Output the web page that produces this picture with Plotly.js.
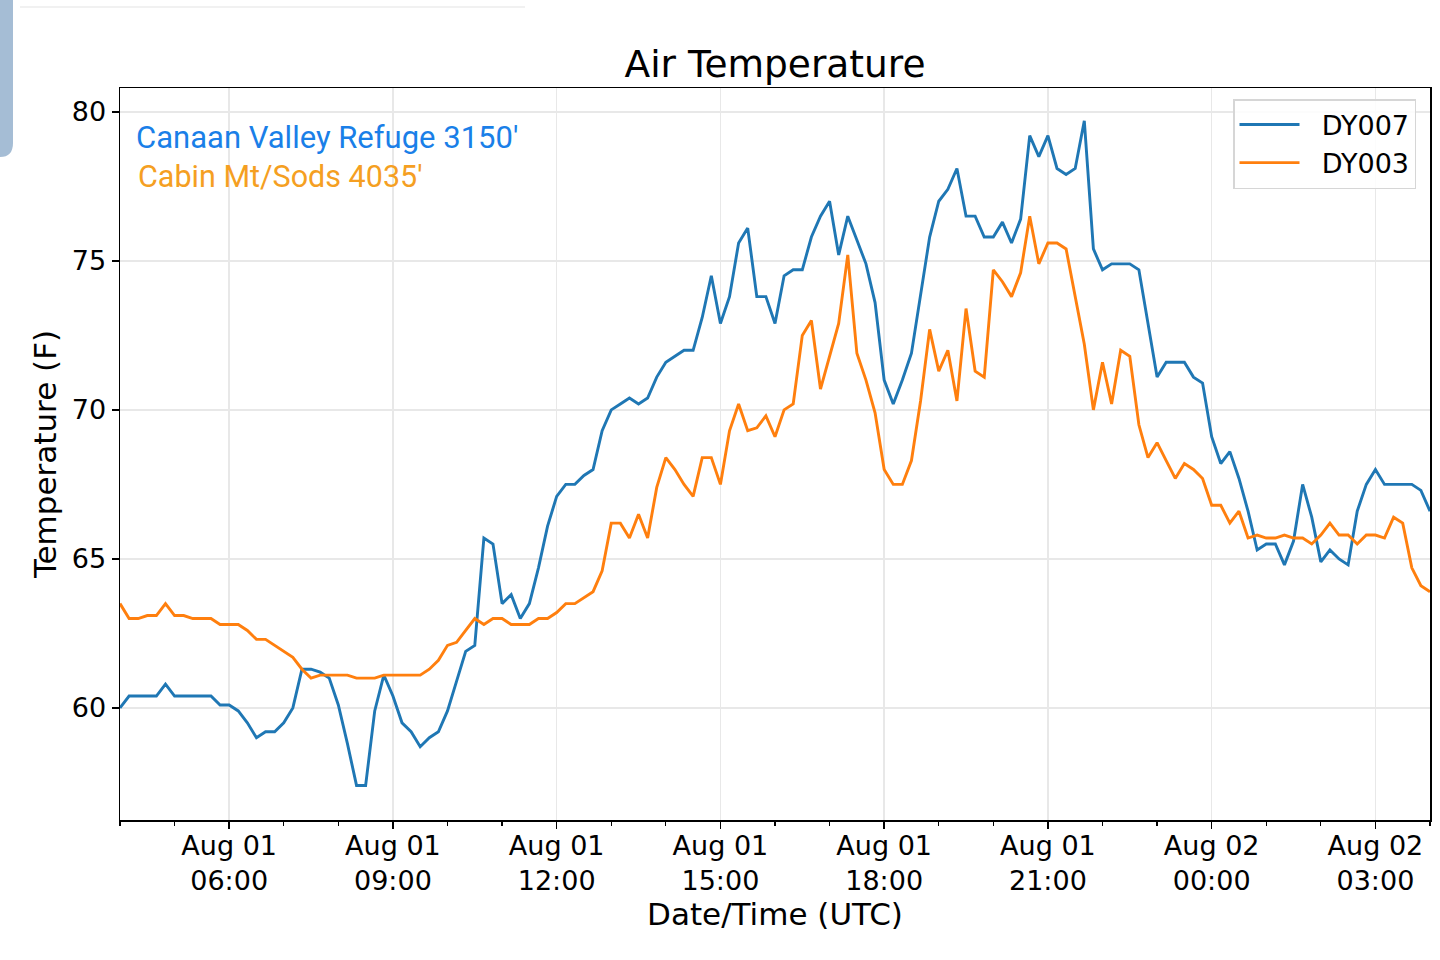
<!DOCTYPE html>
<html>
<head>
<meta charset="utf-8">
<script src="https://cdn.plot.ly/plotly-3.0.1.min.js"></script>
<style>
  html, body { margin: 0; padding: 0; background: #fff; }
  #plot { width: 1440px; height: 960px; }
</style>
</head>
<body>
<div id="plot"></div>
<script>
// 10-minute samples, Aug 01 04:00 UTC -> Aug 02 04:00 UTC
const START_UTC = Date.UTC(2019, 7, 1, 4, 0);
const STEP_MIN = 10;

const DY007 = [
  60.0, 60.4, 60.4, 60.4, 60.4, 60.8, 60.4, 60.4, 60.4, 60.4,
  60.4, 60.1, 60.1, 59.9, 59.5, 59.0, 59.2, 59.2, 59.5, 60.0,
  61.3, 61.3, 61.2, 61.0, 60.1, 58.8, 57.4, 57.4, 59.9, 61.1,
  60.4, 59.5, 59.2, 58.7, 59.0, 59.2, 59.9, 60.9, 61.9, 62.1,
  65.7, 65.5, 63.5, 63.8, 63.0, 63.5, 64.7, 66.1, 67.1, 67.5,
  67.5, 67.8, 68.0, 69.3, 70.0, 70.2, 70.4, 70.2, 70.4, 71.1,
  71.6, 71.8, 72.0, 72.0, 73.1, 74.5, 72.9, 73.8, 75.6, 76.1,
  73.8, 73.8, 72.9, 74.5, 74.7, 74.7, 75.8, 76.5, 77.0, 75.2,
  76.5, 75.7, 74.9, 73.6, 71.0, 70.2, 71.0, 71.9, 73.9, 75.8,
  77.0, 77.4, 78.1, 76.5, 76.5, 75.8, 75.8, 76.3, 75.6, 76.4,
  79.2, 78.5, 79.2, 78.1, 77.9, 78.1, 79.7, 75.4, 74.7, 74.9,
  74.9, 74.9, 74.7, 72.9, 71.1, 71.6, 71.6, 71.6, 71.1, 70.9,
  69.1, 68.2, 68.6, 67.7, 66.6, 65.3, 65.5, 65.5, 64.8, 65.6,
  67.5, 66.4, 64.9, 65.3, 65.0, 64.8, 66.6, 67.5, 68.0, 67.5,
  67.5, 67.5, 67.5, 67.3, 66.6
];

const DY003 = [
  63.5, 63.0, 63.0, 63.1, 63.1, 63.5, 63.1, 63.1, 63.0, 63.0,
  63.0, 62.8, 62.8, 62.8, 62.6, 62.3, 62.3, 62.1, 61.9, 61.7,
  61.3, 61.0, 61.1, 61.1, 61.1, 61.1, 61.0, 61.0, 61.0, 61.1,
  61.1, 61.1, 61.1, 61.1, 61.3, 61.6, 62.1, 62.2, 62.6, 63.0,
  62.8, 63.0, 63.0, 62.8, 62.8, 62.8, 63.0, 63.0, 63.2, 63.5,
  63.5, 63.7, 63.9, 64.6, 66.2, 66.2, 65.7, 66.5, 65.7, 67.4,
  68.4, 68.0, 67.5, 67.1, 68.4, 68.4, 67.5, 69.3, 70.2, 69.3,
  69.4, 69.8, 69.1, 70.0, 70.2, 72.5, 73.0, 70.7, 71.8, 72.9,
  75.2, 71.9, 71.0, 69.9, 68.0, 67.5, 67.5, 68.3, 70.3, 72.7,
  71.3, 72.0, 70.3, 73.4, 71.3, 71.1, 74.7, 74.3, 73.8, 74.6,
  76.5, 74.9, 75.6, 75.6, 75.4, 73.8, 72.2, 70.0, 71.6, 70.2,
  72.0, 71.8, 69.5, 68.4, 68.9, 68.3, 67.7, 68.2, 68.0, 67.7,
  66.8, 66.8, 66.2, 66.6, 65.7, 65.8, 65.7, 65.7, 65.8, 65.7,
  65.7, 65.5, 65.8, 66.2, 65.8, 65.8, 65.5, 65.8, 65.8, 65.7,
  66.4, 66.2, 64.7, 64.1, 63.9
];

const X_TICK_TIMES = [
  '2019-08-01 06:00', '2019-08-01 09:00', '2019-08-01 12:00', '2019-08-01 15:00',
  '2019-08-01 18:00', '2019-08-01 21:00', '2019-08-02 00:00', '2019-08-02 03:00'
];
const X_TICK_LABELS = [
  'Aug 01<br>06:00', 'Aug 01<br>09:00', 'Aug 01<br>12:00', 'Aug 01<br>15:00',
  'Aug 01<br>18:00', 'Aug 01<br>21:00', 'Aug 02<br>00:00', 'Aug 02<br>03:00'
];
const Y_TICKS = [60, 65, 70, 75, 80];

const SERIES_NAMES = ['DY007', 'DY003'];
const SITE_LABELS = ["Canaan Valley Refuge 3150'", "Cabin Mt/Sods 4035'"];

const timeAt = i => new Date(START_UTC + i * STEP_MIN * 60000)
  .toISOString().slice(0, 19).replace('T', ' ');
const times = DY007.map((_, i) => timeAt(i));

const AXIS_FONT = { family: 'DejaVu Sans', size: 27, color: '#000' };
const LABEL_FONT = { family: 'DejaVu Sans', size: 31, color: '#000' };
const NBSP = '\u00a0\u00a0';

const traces = [
  { x: times, y: DY007, name: NBSP + SERIES_NAMES[0], type: 'scatter', mode: 'lines',
    line: { color: '#1f77b4', width: 2.9 }, hoverinfo: 'none' },
  { x: times, y: DY003, name: NBSP + SERIES_NAMES[1], type: 'scatter', mode: 'lines',
    line: { color: '#ff7f0e', width: 2.9 }, hoverinfo: 'none' }
];

// pixel helpers for things placed relative to the axes box
const px = p => (p - 120) / 1310;
const py = p => (820 - p) / 732;

const layout = {
  width: 1440,
  height: 960,
  margin: { l: 120, r: 10, t: 88, b: 140 },
  paper_bgcolor: '#fff',
  plot_bgcolor: '#fff',
  font: AXIS_FONT,
  title: {
    text: 'Air Temperature',
    font: { family: 'DejaVu Sans', size: 37.5, color: '#000' },
    xref: 'paper', x: 0.5, xanchor: 'center',
    yref: 'container', y: 1 - 64 / 960, yanchor: 'middle'
  },
  xaxis: {
    type: 'date',
    range: [timeAt(0), timeAt(DY007.length - 1)],
    tickmode: 'array',
    tickvals: X_TICK_TIMES,
    ticktext: X_TICK_LABELS,
    tickfont: AXIS_FONT,
    ticklabelstandoff: -6,
    ticks: 'outside', ticklen: 7, tickwidth: 1.5, tickcolor: '#000',
    minor: { dtick: 3600000, tick0: '2019-08-01 04:00', ticks: 'outside',
             ticklen: 4, tickwidth: 1.2, tickcolor: '#000', showgrid: false },
    showgrid: true, gridcolor: '#e8e8e8', gridwidth: 1.5,
    showline: true, linecolor: '#000', linewidth: 1.5, mirror: true,
    zeroline: false,
    title: { text: 'Date/Time (UTC)', font: LABEL_FONT, standoff: 3 },
    fixedrange: true
  },
  yaxis: {
    range: [56.24, 80.8],
    tickmode: 'array',
    tickvals: Y_TICKS,
    tickfont: AXIS_FONT,
    ticks: 'outside', ticklen: 7, tickwidth: 1.5, tickcolor: '#000',
    showgrid: true, gridcolor: '#e8e8e8', gridwidth: 1.5,
    showline: true, linecolor: '#000', linewidth: 1.5, mirror: true,
    zeroline: false,
    title: { text: 'Temperature (F)', font: LABEL_FONT, standoff: 6 },
    fixedrange: true
  },
  showlegend: true,
  legend: {
    x: px(1416), xanchor: 'right',
    y: py(99), yanchor: 'top',
    bgcolor: 'rgba(255,255,255,0.85)',
    bordercolor: '#d6d6d6', borderwidth: 1.5,
    font: { family: 'DejaVu Sans', size: 27, color: '#000' },
    itemwidth: 60,
    tracegroupgap: 0
  },
  annotations: [
    { text: SITE_LABELS[0], xref: 'paper', yref: 'paper', x: px(134), y: py(137),
      xanchor: 'left', yanchor: 'middle', showarrow: false,
      font: { family: 'Roboto', size: 31, color: '#1a7fe8' } },
    { text: SITE_LABELS[1], xref: 'paper', yref: 'paper', x: px(136), y: py(177),
      xanchor: 'left', yanchor: 'middle', showarrow: false,
      font: { family: 'Roboto', size: 30.5, color: '#f59f22' } }
  ],
  shapes: [
    { type: 'line', xref: 'paper', yref: 'paper', x0: px(20), x1: px(525), y0: py(7), y1: py(7),
      line: { color: '#ececec', width: 1.5 } },
    { type: 'path', xref: 'paper', yref: 'paper',
      path: `M ${px(-5)} ${py(-5)} L ${px(13)} ${py(-5)} L ${px(13)} ${py(143)} ` +
            `Q ${px(13)} ${py(157)} ${px(0)} ${py(157)} L ${px(-5)} ${py(157)} Z`,
      fillcolor: '#a5bdd5', line: { width: 0 } }
  ],
  hovermode: false,
  dragmode: false
};

Plotly.newPlot('plot', traces, layout, { displayModeBar: false, staticPlot: true });
</script>
</body>
</html>
